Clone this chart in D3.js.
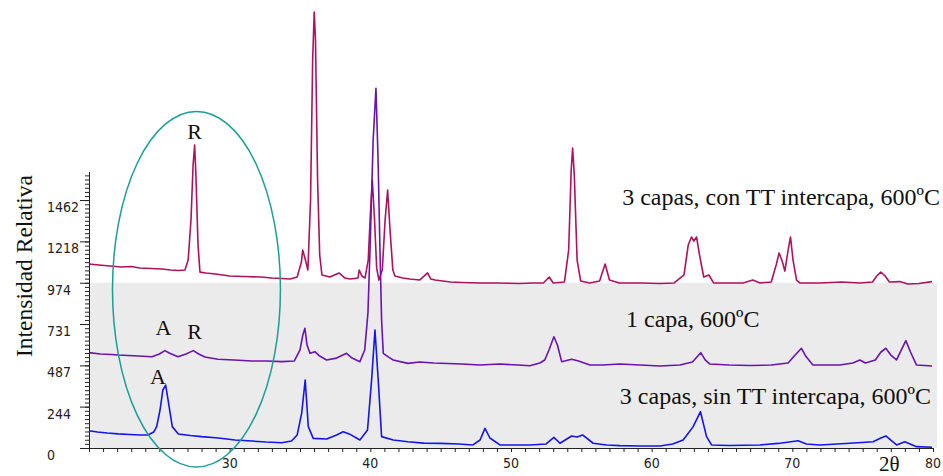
<!DOCTYPE html>
<html>
<head>
<meta charset="utf-8">
<script src="https://cdn.jsdelivr.net/npm/d3@7"></script>
<style>
  body { margin: 0; background: #fff; }
  svg { display: block; }
  .tick-label { font-family: 'Liberation Sans Narrow', 'DejaVu Sans Condensed', sans-serif; font-size: 14px; fill: #222; }
  .serif { font-family: 'Liberation Serif', 'DejaVu Serif', serif; fill: #111; }
</style>
</head>
<body>
<div class="chart"></div>
<script>
// data: [2θ, intensity]
var conTT = [
  [20.0,1085],[20.7,1079],[21.5,1073],[22.3,1067],[23.0,1070],[23.6,1061],[24.4,1058],[25.2,1055],
  [25.8,1049],[26.4,1046],[26.82,1049],[27.05,1108],[27.25,1344],[27.4,1668],[27.51,1786],[27.6,1609],
  [27.75,1197],[27.89,1037],[28.3,1032],[29.0,1026],[30.0,1014],[31.0,1011],[32.2,1008],[33.0,1002],
  [34.3,996],[34.8,1008],[35.1,1096],[35.19,1167],[35.35,1120],[35.56,1049],[35.75,1462],[35.9,2287],
  [36.01,2570],[36.1,2405],[36.25,1580],[36.4,1138],[36.56,1020],[37.13,1008],[37.77,1032],[38.2,1002],
  [38.55,996],[39.12,1002],[39.21,1049],[39.4,1014],[39.62,1002],[39.85,1108],[40.0,1374],[40.14,1580],
  [40.3,1344],[40.45,1061],[40.61,990],[40.85,1049],[41.05,1344],[41.23,1521],[41.4,1285],[41.6,1049],
  [41.75,1014],[42.3,1002],[42.8,996],[43.5,990],[44.07,1032],[44.3,996],[44.6,990],[45.7,979],
  [46.5,976],[47.8,973],[49.0,973],[50.6,970],[51.5,973],[52.3,973],[52.72,1008],[53.0,973],
  [53.8,979],[54.1,1167],[54.28,1639],[54.38,1768],[54.5,1609],[54.7,1108],[54.95,985],[55.6,973],
  [56.3,985],[56.69,1085],[57.0,990],[57.7,973],[59.2,973],[60.6,970],[61.6,973],[62.3,1020],
  [62.6,1197],[62.83,1244],[63.0,1220],[63.19,1244],[63.4,1138],[63.7,1008],[64.07,1020],[64.4,973],
  [65.5,973],[66.5,973],[67.19,990],[67.7,973],[68.5,979],[68.85,1079],[69.06,1150],[69.3,1096],
  [69.47,1043],[69.7,1167],[69.87,1244],[70.05,1108],[70.3,990],[70.53,973],[72.0,973],[73.5,979],
  [74.8,973],[75.7,979],[76.0,1014],[76.29,1037],[76.6,1014],[76.9,979],[77.64,981],[78.2,967],
  [79.0,970],[79.93,981]
];

var unaCapa = [
  [20.0,562],[20.8,554],[21.6,551],[22.06,548],[22.8,545],[23.5,542],[24.48,538],[25.0,554],
  [25.4,574],[25.7,560],[26.33,538],[26.9,554],[27.41,574],[27.8,554],[28.24,536],[29.17,523],
  [30.3,519],[31.58,513],[32.6,513],[33.7,509],[34.6,513],[35.0,578],[35.2,666],[35.35,706],
  [35.5,607],[35.71,558],[36.06,568],[36.4,542],[36.89,519],[37.6,530],[38.31,558],[38.7,530],
  [39.26,509],[39.6,578],[39.83,796],[40.0,1226],[40.2,1816],[40.4,2121],[40.55,1698],[40.68,1187],
  [40.8,755],[40.92,558],[41.3,536],[41.63,519],[42.67,499],[43.5,507],[44.5,501],[45.5,498],
  [46.5,495],[47.79,489],[49.21,495],[50.5,489],[51.34,485],[52.05,501],[52.4,519],[52.7,578],
  [53.05,656],[53.3,607],[53.6,509],[54.31,523],[54.8,513],[55.61,489],[56.5,489],[57.74,495],
  [59.16,489],[60.58,483],[62.0,489],[62.9,507],[63.49,562],[63.8,519],[64.14,495],[65.5,489],
  [67.0,486],[68.5,489],[69.7,501],[70.2,548],[70.65,588],[70.95,542],[71.46,489],[72.5,489],
  [73.38,489],[74.3,501],[74.8,519],[75.2,501],[75.9,519],[76.3,566],[76.65,588],[77.0,548],
  [77.41,519],[77.75,578],[78.07,633],[78.4,566],[78.83,489],[79.4,486],[79.93,483]
];

var sinTT = [
  [20.0,102],[20.6,94],[21.3,88],[22.06,83],[22.9,80],[23.6,77],[24.19,77],[24.6,94],
  [24.81,126],[25.05,224],[25.25,342],[25.45,371],[25.62,283],[25.92,126],[26.35,83],[27.2,74],
  [28.01,67],[29.2,59],[30.38,47],[31.6,41],[32.6,35],[33.7,31],[34.4,41],[34.8,77],
  [35.12,206],[35.37,401],[35.59,126],[35.94,57],[36.9,53],[37.6,77],[38.07,96],[38.5,83],
  [39.26,47],[39.8,106],[40.09,401],[40.33,696],[40.56,401],[40.8,67],[41.63,47],[42.67,37],
  [43.8,29],[45.0,27],[46.3,24],[47.29,18],[47.8,47],[48.15,116],[48.5,59],[49.21,18],
  [50.6,18],[51.34,18],[52.5,24],[53.05,63],[53.48,28],[54.31,71],[54.7,65],[55.09,77],
  [55.84,28],[56.8,18],[57.74,14],[59.16,12],[60.58,12],[61.5,24],[62.24,47],[62.95,126],
  [63.47,214],[63.9,67],[64.26,18],[65.5,15],[67.69,18],[69.0,27],[70.41,43],[71.0,24],
  [71.95,18],[74.09,28],[75.74,37],[76.29,59],[76.65,71],[77.0,47],[77.41,18],[78.0,37],
  [78.83,8],[79.93,4]
];

var yTickLabels = [0, 244, 487, 731, 974, 1218, 1462];
var xTickLabels = [30, 40, 50, 60, 70, 80];
var seriesNames = ['3 capas, con TT intercapa, 600ºC', '1 capa, 600ºC', '3 capas, sin TT intercapa, 600ºC'];
var seriesColors = ['#b0105e', '#6a12b2', '#1414f0'];

var W = 943, H = 476;

var svg = d3.select('.chart').append('svg')
    .attr('width', W)
    .attr('height', H);

var x = d3.scaleLinear().domain([20, 80]).range([89, 933]);
var y = d3.scaleLinear().domain([0, 1462]).range([448, 200]);
var yTop = 1630;

// grey band behind the two lower patterns
svg.append('rect')
    .attr('x', x(20))
    .attr('y', y(974))
    .attr('width', x(80) - x(20) + 4)
    .attr('height', y(0) - y(974))
    .attr('fill', '#ebebeb');

// lines
var line = d3.line()
    .x(function(d) { return x(d[0]); })
    .y(function(d) { return y(d[1]); });

[conTT, unaCapa, sinTT].forEach(function(s, i) {
    svg.append('path')
        .datum(s)
        .attr('fill', 'none')
        .attr('stroke', seriesColors[i])
        .attr('stroke-width', 1.6)
        .attr('stroke-linejoin', 'round')
        .attr('d', line);
});

// y axis: minor ticks + major ticks
var yMinor = d3.range(0, yTop, 974 / 40);
svg.append('g')
    .attr('transform', 'translate(' + x(20) + ',0)')
    .call(d3.axisLeft(y.copy().domain([0, yTop]).range([y(0), y(yTop)]))
        .tickValues(yMinor).tickSize(4).tickSizeOuter(0).tickFormat(''))
    .call(function(g) { g.selectAll('line, path').attr('stroke', '#222'); });
svg.append('g')
    .attr('transform', 'translate(' + x(20) + ',0)')
    .call(d3.axisLeft(y).tickValues(yTickLabels).tickSize(9).tickFormat(''))
    .call(function(g) { g.select('.domain').remove(); g.selectAll('line').attr('stroke', '#222'); });

svg.selectAll('.ylab')
    .data(yTickLabels)
  .enter().append('text')
    .attr('class', 'tick-label')
    .attr('x', 47)
    .attr('y', function(d) { return y(d) + 12; })
    .text(function(d) { return d; });

// x axis
svg.append('g')
    .attr('transform', 'translate(0,' + y(0) + ')')
    .call(d3.axisBottom(x).tickValues(d3.range(20, 81, 1)).tickSize(4).tickSizeOuter(0).tickFormat(''))
    .call(function(g) { g.selectAll('line, path').attr('stroke', '#222'); });

svg.selectAll('.xlab')
    .data(xTickLabels)
  .enter().append('text')
    .attr('class', 'tick-label')
    .attr('text-anchor', 'middle')
    .attr('x', function(d) { return x(d); })
    .attr('y', y(0) + 20)
    .text(function(d) { return d; });

// axis titles
svg.append('text')
    .attr('class', 'serif')
    .attr('text-anchor', 'middle')
    .attr('transform', 'translate(32,' + 266 + ') rotate(-90)')
    .style('font-size', '23.5px')
    .text('Intensidad Relativa');

svg.append('text')
    .attr('class', 'serif')
    .attr('x', 879)
    .attr('y', 471)
    .style('font-size', '21px')
    .text('2θ');

// ellipse around the 25-28° region
var ell = {cx: 27.64, cy: 936, rx: 5.97, ry: 1048};
svg.append('ellipse')
    .attr('cx', x(ell.cx))
    .attr('cy', y(ell.cy))
    .attr('rx', x(ell.cx + ell.rx) - x(ell.cx))
    .attr('ry', y(0) - y(ell.ry))
    .attr('fill', 'none')
    .attr('stroke', '#1a9e98')
    .attr('stroke-width', 1.5);

// series labels
var seriesLabelPos = [
    {x: 940, y: 205, anchor: 'end'},
    {x: 626, y: 327, anchor: 'start'},
    {x: 931, y: 404, anchor: 'end'}
];
seriesNames.forEach(function(n, i) {
    svg.append('text')
        .attr('class', 'serif')
        .attr('x', seriesLabelPos[i].x)
        .attr('y', seriesLabelPos[i].y)
        .attr('text-anchor', seriesLabelPos[i].anchor)
        .style('font-size', '24px')
        .text(n);
});

// phase marks (A = anatasa, R = rutilo)
var phaseMarks = [
    {t: 'R', x: 27.5, y: 1820},
    {t: 'A', x: 25.3, y: 665},
    {t: 'R', x: 27.5, y: 640},
    {t: 'A', x: 24.9, y: 375}
];
svg.selectAll('.phase')
    .data(phaseMarks)
  .enter().append('text')
    .attr('class', 'serif')
    .attr('text-anchor', 'middle')
    .attr('x', function(d) { return x(d.x); })
    .attr('y', function(d) { return y(d.y); })
    .style('font-size', '22px')
    .text(function(d) { return d.t; });
</script>
</body>
</html>
